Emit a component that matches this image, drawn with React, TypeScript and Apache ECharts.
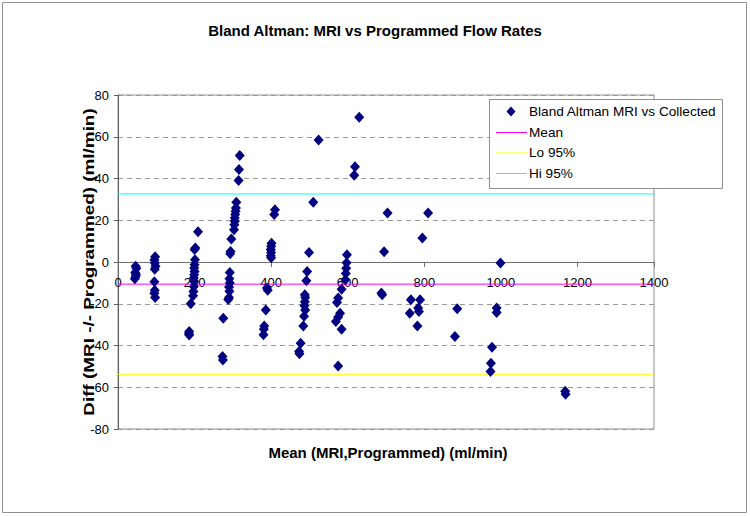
import React, { useEffect, useRef } from "react";
import * as echarts from "echarts";

// Mean of MRI and programmed flow (ml/min)
const meanFlow: number[] = [
  46, 48, 45, 47, 46, 44,
  97, 95, 96, 98, 96, 95, 96, 95, 97,
  209, 202, 200, 201, 200, 199, 200, 199, 198, 199, 198, 197, 196, 190, 186, 185, 186,
  318, 316, 315, 309, 308, 307, 306, 305, 305, 304, 303, 296, 294, 293, 292, 291, 292, 290, 291, 290, 288, 275, 273, 274,
  410, 408, 401, 400, 399, 400, 399, 400, 389, 391, 386, 382, 381, 380,
  524, 510, 499, 494, 492, 488, 489, 488, 487, 489, 486, 484, 477, 473, 474,
  630, 619, 617, 598, 597, 596, 595, 594, 584, 575, 572, 580, 575, 569, 584, 575,
  704, 695, 688, 690,
  810, 795, 765, 789, 784, 786, 762, 782,
  886, 880,
  999, 989, 989, 977, 974, 973,
  1168, 1169,
];

// Difference MRI - programmed (ml/min)
const diffFlow: number[] = [
  -2, -3, -5, -6, -7, -8,
  2.5, 1, -0.5, -2, -3.5, -9.5, -13.5, -15, -17,
  14.5, 6.7, 6, 1.1, -1.3, -2.9, -4.5, -6.1, -7.7, -9.3, -11.7, -14.1, -16.2, -20, -33.3, -34.2, -35,
  51, 44.3, 39, 28.6, 25.9, 24.3, 22.7, 21.1, 19.5, 17.9, 15.5, 11, 5, 4, -5, -8, -10, -12, -14, -17, -18, -27, -45.3, -47,
  25, 22.7, 9, 7.5, 6, 4.5, 3, 2, -12.5, -13.5, -23, -30.6, -32.2, -34.9,
  58.4, 28.6, 4.6, -4.5, -9, -15.7, -17, -19, -21, -23, -26, -30.6, -38.9, -42.9, -44,
  69.4, 45.6, 41.6, 3.5, -0.3, -3, -5.5, -8.5, -13, -17.3, -19.4, -24.5, -26.4, -28.5, -32.2, -49.8,
  23.5, 4.9, -14.9, -15.7,
  23.5, 11.5, -18.1, -18.1, -22, -23.7, -24.5, -30.6,
  -22.4, -35.7,
  -0.5, -22, -24.2, -40.8, -48.5, -52.5,
  -61.9, -63.3,
];

const meanDiff = -10.6;
const lo95 = -53.8;
const hi95 = 32.6;
const xRange = [0, 1400];

const seriesNames = ["Bland Altman MRI vs Collected", "Mean", "Lo 95%", "Hi 95%"];
const seriesColors = ["#000080", "#ff00ff", "#ffff00", "#00ffff"];

const FONT = "'Liberation Sans', Arial, sans-serif";

export default function App() {
  const ref = useRef<HTMLDivElement>(null);
  useEffect(() => {
    document.body.style.margin = "0";
    const chart = echarts.init(ref.current!, null, { renderer: "svg" });
    const pts = meanFlow.map((x, i) => [x, diffFlow[i]]);
    const hline = (v: number) => xRange.map((x) => [x, v]);
    const gridTop = 95;
    const gridBottom = 87;
    const plotH = 516 - gridTop - gridBottom;
    const lineSeries = (idx: number, v: number) => ({
      name: seriesNames[idx],
      type: "line",
      data: hline(v),
      symbol: "none",
      lineStyle: { color: seriesColors[idx], width: 1 },
      itemStyle: { color: seriesColors[idx] },
      z: 1,
    });

    // legend drawn as graphic elements (box, keys, labels)
    const legX = 489.5;
    const legY = 99.5;
    const rowY = [111.5, 132, 152.5, 173];
    const legendChildren: any[] = [
      {
        type: "rect",
        z: 100,
        silent: true,
        shape: { x: legX, y: legY, width: 233, height: 89 },
        style: { fill: "#fff", stroke: "#909090", lineWidth: 1 },
      },
    ];
    seriesNames.forEach((name, i) => {
      const cy = rowY[i];
      if (i === 0) {
        legendChildren.push({
          type: "polygon",
          z: 101,
          silent: true,
          shape: { points: [[511, cy - 5], [515.5, cy], [511, cy + 5], [506.5, cy]] },
          style: { fill: seriesColors[0] },
        });
      } else {
        legendChildren.push({
          type: "line",
          z: 101,
          silent: true,
          shape: { x1: 496, y1: cy + 0.5, x2: 527, y2: cy + 0.5 },
          style: { stroke: seriesColors[i], lineWidth: 1 },
        });
      }
      legendChildren.push({
        type: "text",
        z: 101,
        silent: true,
        x: 529,
        y: cy,
        style: {
          text: name,
          font: `13.6px ${FONT}`,
          fill: "#000",
          textAlign: "left",
          textVerticalAlign: "middle",
        },
      });
    });

    chart.setOption({
      animation: false,
      backgroundColor: "#fff",
      textStyle: { fontFamily: FONT },
      title: {
        text: "Bland Altman: MRI vs Programmed Flow Rates",
        left: "center",
        top: 18,
        textStyle: { fontFamily: FONT, fontSize: 15, fontWeight: "bold", color: "#000" },
      },
      grid: {
        left: 118,
        right: 96,
        top: gridTop,
        bottom: gridBottom,
        show: true,
        borderColor: "#909090",
        borderWidth: 1,
      },
      xAxis: {
        type: "value",
        min: 0,
        max: 1400,
        interval: 200,
        offset: -plotH * (80 / 160),
        axisLine: { show: true, onZero: false, lineStyle: { color: "#707070" } },
        axisTick: { show: true, length: 5, lineStyle: { color: "#707070" } },
        axisLabel: {
          fontFamily: FONT,
          fontSize: 13,
          color: "#000",
          margin: 14,
          formatter: (v: number) => String(v),
        },
        splitLine: { show: false },
      },
      yAxis: {
        type: "value",
        min: -80,
        max: 80,
        interval: 20,
        axisLine: { show: true, onZero: false, lineStyle: { color: "#606060" } },
        axisTick: { show: true, length: 4, lineStyle: { color: "#606060" } },
        axisLabel: { fontFamily: FONT, fontSize: 13, color: "#000", margin: 9 },
        splitLine: { show: true, lineStyle: { color: "#9a9a9a", type: [5, 4], width: 1 } },
      },
      series: [
        lineSeries(1, meanDiff),
        lineSeries(2, lo95),
        lineSeries(3, hi95),
        {
          name: seriesNames[0],
          type: "scatter",
          data: pts,
          symbol: "diamond",
          symbolSize: [10, 11],
          itemStyle: { color: seriesColors[0], opacity: 1 },
          z: 3,
        },
      ],
      graphic: [
        {
          type: "rect",
          shape: { x: 2.5, y: 2.5, width: 744, height: 510 },
          style: { fill: "none", stroke: "#909090", lineWidth: 1 },
          silent: true,
        },
        ...legendChildren,
        {
          type: "text",
          x: 388,
          y: 452,
          style: {
            text: "Mean (MRI,Programmed) (ml/min)",
            font: `bold 15px ${FONT}`,
            fill: "#000",
            textAlign: "center",
            textVerticalAlign: "middle",
          },
        },
        {
          type: "text",
          x: 89,
          y: 262,
          rotation: Math.PI / 2,
          scaleX: 1.22,
          style: {
            text: "Diff (MRI -/- Programmed) (ml/min)",
            font: `bold 15.5px ${FONT}`,
            fill: "#000",
            textAlign: "center",
            textVerticalAlign: "middle",
          },
        },
      ],
    });
    return () => chart.dispose();
  }, []);
  return <div ref={ref} style={{ width: 750, height: 516 }} />;
}
